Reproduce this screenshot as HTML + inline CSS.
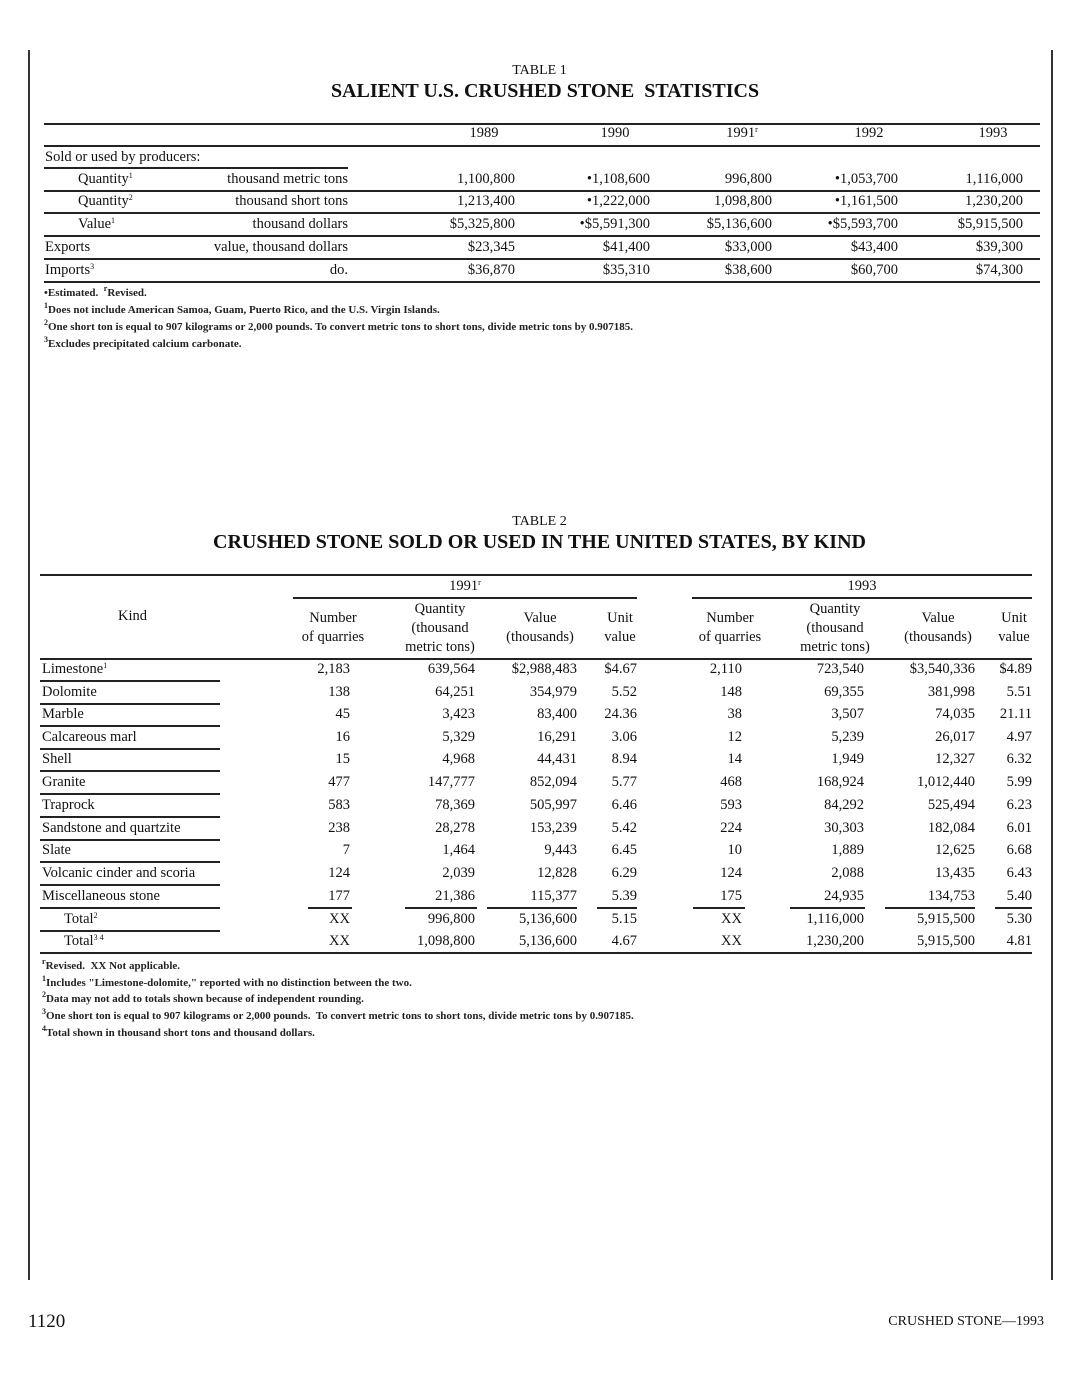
<!DOCTYPE html>
<html><head><meta charset="utf-8">
<style>
body{margin:0;background:#fff;}
#p{position:relative;width:1079px;height:1380px;overflow:hidden;background:#fff;font-family:"Liberation Serif",serif;color:#111;}
.a{position:absolute;white-space:nowrap;font-size:14.5px;line-height:18px;}
.r{text-align:right;}
.c{text-align:center;}
.h{position:absolute;height:1.5px;background:#222;}
.v{position:absolute;width:1.5px;background:#333;}
.fn{position:absolute;white-space:nowrap;font-size:11px;line-height:14px;font-weight:bold;color:#222;}
sup{font-size:8px;vertical-align:5px;line-height:0;}
</style></head><body><div id="p">
<div class="v" style="left:28px;top:50px;height:1230px"></div>
<div class="v" style="left:1051px;top:50px;height:1230px"></div>

<div class="a c" style="left:0;width:1079px;top:62px;font-size:14px">TABLE 1</div>
<div class="a c" style="left:0;width:1090px;top:79px;font-size:20px;line-height:24px;font-weight:bold">SALIENT U.S. CRUSHED STONE&nbsp; STATISTICS</div>

<div class="h" style="left:44px;width:996px;top:123px"></div>
<div class="h" style="left:44px;width:996px;top:145px"></div>
<div class="a c" style="left:434px;width:100px;top:124px">1989</div>
<div class="a c" style="left:565px;width:100px;top:124px">1990</div>
<div class="a c" style="left:692px;width:100px;top:124px">1991<sup>r</sup></div>
<div class="a c" style="left:819px;width:100px;top:124px">1992</div>
<div class="a c" style="left:943px;width:100px;top:124px">1993</div>

<div class="a" style="left:45px;top:148px">Sold or used by producers:</div>
<div class="h" style="left:44px;width:304px;top:167px"></div>

<div class="a" style="left:78px;top:170px">Quantity<sup>1</sup></div>
<div class="a r" style="left:148px;width:200px;top:170px">thousand metric tons</div>
<div class="a r" style="left:395px;width:120px;top:170px">1,100,800</div>
<div class="a r" style="left:530px;width:120px;top:170px">•1,108,600</div>
<div class="a r" style="left:652px;width:120px;top:170px">996,800</div>
<div class="a r" style="left:778px;width:120px;top:170px">•1,053,700</div>
<div class="a r" style="left:903px;width:120px;top:170px">1,116,000</div>
<div class="h" style="left:44px;width:996px;top:190px"></div>

<div class="a" style="left:78px;top:192px">Quantity<sup>2</sup></div>
<div class="a r" style="left:148px;width:200px;top:192px">thousand short tons</div>
<div class="a r" style="left:395px;width:120px;top:192px">1,213,400</div>
<div class="a r" style="left:530px;width:120px;top:192px">•1,222,000</div>
<div class="a r" style="left:652px;width:120px;top:192px">1,098,800</div>
<div class="a r" style="left:778px;width:120px;top:192px">•1,161,500</div>
<div class="a r" style="left:903px;width:120px;top:192px">1,230,200</div>
<div class="h" style="left:44px;width:996px;top:212px"></div>

<div class="a" style="left:78px;top:215px">Value<sup>1</sup></div>
<div class="a r" style="left:148px;width:200px;top:215px">thousand dollars</div>
<div class="a r" style="left:395px;width:120px;top:215px">$5,325,800</div>
<div class="a r" style="left:530px;width:120px;top:215px">•$5,591,300</div>
<div class="a r" style="left:652px;width:120px;top:215px">$5,136,600</div>
<div class="a r" style="left:778px;width:120px;top:215px">•$5,593,700</div>
<div class="a r" style="left:903px;width:120px;top:215px">$5,915,500</div>
<div class="h" style="left:44px;width:996px;top:235px"></div>

<div class="a" style="left:45px;top:238px">Exports</div>
<div class="a r" style="left:148px;width:200px;top:238px">value, thousand dollars</div>
<div class="a r" style="left:395px;width:120px;top:238px">$23,345</div>
<div class="a r" style="left:530px;width:120px;top:238px">$41,400</div>
<div class="a r" style="left:652px;width:120px;top:238px">$33,000</div>
<div class="a r" style="left:778px;width:120px;top:238px">$43,400</div>
<div class="a r" style="left:903px;width:120px;top:238px">$39,300</div>
<div class="h" style="left:44px;width:996px;top:258px"></div>

<div class="a" style="left:45px;top:261px">Imports<sup>3</sup></div>
<div class="a r" style="left:148px;width:200px;top:261px">do.</div>
<div class="a r" style="left:395px;width:120px;top:261px">$36,870</div>
<div class="a r" style="left:530px;width:120px;top:261px">$35,310</div>
<div class="a r" style="left:652px;width:120px;top:261px">$38,600</div>
<div class="a r" style="left:778px;width:120px;top:261px">$60,700</div>
<div class="a r" style="left:903px;width:120px;top:261px">$74,300</div>
<div class="h" style="left:44px;width:996px;top:281px"></div>

<div class="fn" style="left:44px;top:286px">•Estimated.&nbsp; <sup>r</sup>Revised.</div>
<div class="fn" style="left:44px;top:303px"><sup>1</sup>Does not include American Samoa, Guam, Puerto Rico, and the U.S. Virgin Islands.</div>
<div class="fn" style="left:44px;top:320px"><sup>2</sup>One short ton is equal to 907 kilograms or 2,000 pounds. To convert metric tons to short tons, divide metric tons by 0.907185.</div>
<div class="fn" style="left:44px;top:337px"><sup>3</sup>Excludes precipitated calcium carbonate.</div>

<div class="a c" style="left:0;width:1079px;top:513px;font-size:14px">TABLE 2</div>
<div class="a c" style="left:0;width:1079px;top:530px;font-size:20px;line-height:24px;font-weight:bold">CRUSHED STONE SOLD OR USED IN THE UNITED STATES, BY KIND</div>

<div class="h" style="left:40px;width:992px;top:574px"></div>
<div class="a c" style="left:293px;width:344px;top:577px">1991<sup>r</sup></div>
<div class="a c" style="left:692px;width:340px;top:577px">1993</div>
<div class="h" style="left:293px;width:344px;top:597px"></div>
<div class="h" style="left:692px;width:340px;top:597px"></div>

<div class="a c" style="left:40px;width:185px;top:607px">Kind</div>
<div class="a c" style="left:283px;width:100px;top:609px;line-height:19px">Number<br>of quarries</div>
<div class="a c" style="left:385px;width:110px;top:600px;line-height:19px">Quantity<br>(thousand<br>metric tons)</div>
<div class="a c" style="left:490px;width:100px;top:609px;line-height:19px">Value<br>(thousands)</div>
<div class="a c" style="left:590px;width:60px;top:609px;line-height:19px">Unit<br>value</div>
<div class="a c" style="left:680px;width:100px;top:609px;line-height:19px">Number<br>of quarries</div>
<div class="a c" style="left:780px;width:110px;top:600px;line-height:19px">Quantity<br>(thousand<br>metric tons)</div>
<div class="a c" style="left:888px;width:100px;top:609px;line-height:19px">Value<br>(thousands)</div>
<div class="a c" style="left:984px;width:60px;top:609px;line-height:19px">Unit<br>value</div>
<div class="h" style="left:40px;width:992px;top:658px"></div>

<div class="a" style="left:42px;top:660px">Limestone<sup>1</sup></div><div class="a r" style="left:290px;width:60px;top:660px">2,183</div><div class="a r" style="left:375px;width:100px;top:660px">639,564</div><div class="a r" style="left:477px;width:100px;top:660px">$2,988,483</div><div class="a r" style="left:577px;width:60px;top:660px">$4.67</div><div class="a r" style="left:682px;width:60px;top:660px">2,110</div><div class="a r" style="left:764px;width:100px;top:660px">723,540</div><div class="a r" style="left:875px;width:100px;top:660px">$3,540,336</div><div class="a r" style="left:972px;width:60px;top:660px">$4.89</div>
<div class="h" style="left:40px;width:180px;top:680px"></div>
<div class="a" style="left:42px;top:683px">Dolomite</div><div class="a r" style="left:290px;width:60px;top:683px">138</div><div class="a r" style="left:375px;width:100px;top:683px">64,251</div><div class="a r" style="left:477px;width:100px;top:683px">354,979</div><div class="a r" style="left:577px;width:60px;top:683px">5.52</div><div class="a r" style="left:682px;width:60px;top:683px">148</div><div class="a r" style="left:764px;width:100px;top:683px">69,355</div><div class="a r" style="left:875px;width:100px;top:683px">381,998</div><div class="a r" style="left:972px;width:60px;top:683px">5.51</div>
<div class="h" style="left:40px;width:180px;top:703px"></div>
<div class="a" style="left:42px;top:705px">Marble</div><div class="a r" style="left:290px;width:60px;top:705px">45</div><div class="a r" style="left:375px;width:100px;top:705px">3,423</div><div class="a r" style="left:477px;width:100px;top:705px">83,400</div><div class="a r" style="left:577px;width:60px;top:705px">24.36</div><div class="a r" style="left:682px;width:60px;top:705px">38</div><div class="a r" style="left:764px;width:100px;top:705px">3,507</div><div class="a r" style="left:875px;width:100px;top:705px">74,035</div><div class="a r" style="left:972px;width:60px;top:705px">21.11</div>
<div class="h" style="left:40px;width:180px;top:725px"></div>
<div class="a" style="left:42px;top:728px">Calcareous marl</div><div class="a r" style="left:290px;width:60px;top:728px">16</div><div class="a r" style="left:375px;width:100px;top:728px">5,329</div><div class="a r" style="left:477px;width:100px;top:728px">16,291</div><div class="a r" style="left:577px;width:60px;top:728px">3.06</div><div class="a r" style="left:682px;width:60px;top:728px">12</div><div class="a r" style="left:764px;width:100px;top:728px">5,239</div><div class="a r" style="left:875px;width:100px;top:728px">26,017</div><div class="a r" style="left:972px;width:60px;top:728px">4.97</div>
<div class="h" style="left:40px;width:180px;top:748px"></div>
<div class="a" style="left:42px;top:750px">Shell</div><div class="a r" style="left:290px;width:60px;top:750px">15</div><div class="a r" style="left:375px;width:100px;top:750px">4,968</div><div class="a r" style="left:477px;width:100px;top:750px">44,431</div><div class="a r" style="left:577px;width:60px;top:750px">8.94</div><div class="a r" style="left:682px;width:60px;top:750px">14</div><div class="a r" style="left:764px;width:100px;top:750px">1,949</div><div class="a r" style="left:875px;width:100px;top:750px">12,327</div><div class="a r" style="left:972px;width:60px;top:750px">6.32</div>
<div class="h" style="left:40px;width:180px;top:770px"></div>
<div class="a" style="left:42px;top:773px">Granite</div><div class="a r" style="left:290px;width:60px;top:773px">477</div><div class="a r" style="left:375px;width:100px;top:773px">147,777</div><div class="a r" style="left:477px;width:100px;top:773px">852,094</div><div class="a r" style="left:577px;width:60px;top:773px">5.77</div><div class="a r" style="left:682px;width:60px;top:773px">468</div><div class="a r" style="left:764px;width:100px;top:773px">168,924</div><div class="a r" style="left:875px;width:100px;top:773px">1,012,440</div><div class="a r" style="left:972px;width:60px;top:773px">5.99</div>
<div class="h" style="left:40px;width:180px;top:793px"></div>
<div class="a" style="left:42px;top:796px">Traprock</div><div class="a r" style="left:290px;width:60px;top:796px">583</div><div class="a r" style="left:375px;width:100px;top:796px">78,369</div><div class="a r" style="left:477px;width:100px;top:796px">505,997</div><div class="a r" style="left:577px;width:60px;top:796px">6.46</div><div class="a r" style="left:682px;width:60px;top:796px">593</div><div class="a r" style="left:764px;width:100px;top:796px">84,292</div><div class="a r" style="left:875px;width:100px;top:796px">525,494</div><div class="a r" style="left:972px;width:60px;top:796px">6.23</div>
<div class="h" style="left:40px;width:180px;top:816px"></div>
<div class="a" style="left:42px;top:819px">Sandstone and quartzite</div><div class="a r" style="left:290px;width:60px;top:819px">238</div><div class="a r" style="left:375px;width:100px;top:819px">28,278</div><div class="a r" style="left:477px;width:100px;top:819px">153,239</div><div class="a r" style="left:577px;width:60px;top:819px">5.42</div><div class="a r" style="left:682px;width:60px;top:819px">224</div><div class="a r" style="left:764px;width:100px;top:819px">30,303</div><div class="a r" style="left:875px;width:100px;top:819px">182,084</div><div class="a r" style="left:972px;width:60px;top:819px">6.01</div>
<div class="h" style="left:40px;width:180px;top:839px"></div>
<div class="a" style="left:42px;top:841px">Slate</div><div class="a r" style="left:290px;width:60px;top:841px">7</div><div class="a r" style="left:375px;width:100px;top:841px">1,464</div><div class="a r" style="left:477px;width:100px;top:841px">9,443</div><div class="a r" style="left:577px;width:60px;top:841px">6.45</div><div class="a r" style="left:682px;width:60px;top:841px">10</div><div class="a r" style="left:764px;width:100px;top:841px">1,889</div><div class="a r" style="left:875px;width:100px;top:841px">12,625</div><div class="a r" style="left:972px;width:60px;top:841px">6.68</div>
<div class="h" style="left:40px;width:180px;top:861px"></div>
<div class="a" style="left:42px;top:864px">Volcanic cinder and scoria</div><div class="a r" style="left:290px;width:60px;top:864px">124</div><div class="a r" style="left:375px;width:100px;top:864px">2,039</div><div class="a r" style="left:477px;width:100px;top:864px">12,828</div><div class="a r" style="left:577px;width:60px;top:864px">6.29</div><div class="a r" style="left:682px;width:60px;top:864px">124</div><div class="a r" style="left:764px;width:100px;top:864px">2,088</div><div class="a r" style="left:875px;width:100px;top:864px">13,435</div><div class="a r" style="left:972px;width:60px;top:864px">6.43</div>
<div class="h" style="left:40px;width:180px;top:884px"></div>
<div class="a" style="left:42px;top:887px">Miscellaneous stone</div><div class="a r" style="left:290px;width:60px;top:887px">177</div><div class="a r" style="left:375px;width:100px;top:887px">21,386</div><div class="a r" style="left:477px;width:100px;top:887px">115,377</div><div class="a r" style="left:577px;width:60px;top:887px">5.39</div><div class="a r" style="left:682px;width:60px;top:887px">175</div><div class="a r" style="left:764px;width:100px;top:887px">24,935</div><div class="a r" style="left:875px;width:100px;top:887px">134,753</div><div class="a r" style="left:972px;width:60px;top:887px">5.40</div>
<div class="h" style="left:40px;width:180px;top:907px"></div>
<div class="h" style="left:308px;width:44px;top:907px"></div>
<div class="h" style="left:405px;width:72px;top:907px"></div>
<div class="h" style="left:487px;width:90px;top:907px"></div>
<div class="h" style="left:597px;width:40px;top:907px"></div>
<div class="h" style="left:693px;width:52px;top:907px"></div>
<div class="h" style="left:790px;width:75px;top:907px"></div>
<div class="h" style="left:885px;width:90px;top:907px"></div>
<div class="h" style="left:995px;width:37px;top:907px"></div>
<div class="a" style="left:64px;top:910px">Total<sup>2</sup></div><div class="a r" style="left:290px;width:60px;top:910px">XX</div><div class="a r" style="left:375px;width:100px;top:910px">996,800</div><div class="a r" style="left:477px;width:100px;top:910px">5,136,600</div><div class="a r" style="left:577px;width:60px;top:910px">5.15</div><div class="a r" style="left:682px;width:60px;top:910px">XX</div><div class="a r" style="left:764px;width:100px;top:910px">1,116,000</div><div class="a r" style="left:875px;width:100px;top:910px">5,915,500</div><div class="a r" style="left:972px;width:60px;top:910px">5.30</div>
<div class="h" style="left:40px;width:180px;top:930px"></div>
<div class="a" style="left:64px;top:932px">Total<sup>3 4</sup></div><div class="a r" style="left:290px;width:60px;top:932px">XX</div><div class="a r" style="left:375px;width:100px;top:932px">1,098,800</div><div class="a r" style="left:477px;width:100px;top:932px">5,136,600</div><div class="a r" style="left:577px;width:60px;top:932px">4.67</div><div class="a r" style="left:682px;width:60px;top:932px">XX</div><div class="a r" style="left:764px;width:100px;top:932px">1,230,200</div><div class="a r" style="left:875px;width:100px;top:932px">5,915,500</div><div class="a r" style="left:972px;width:60px;top:932px">4.81</div>
<div class="h" style="left:40px;width:992px;top:952px"></div>

<div class="fn" style="left:42px;top:959px"><sup>r</sup>Revised.&nbsp; XX Not applicable.</div>
<div class="fn" style="left:42px;top:976px"><sup>1</sup>Includes "Limestone-dolomite," reported with no distinction between the two.</div>
<div class="fn" style="left:42px;top:992px"><sup>2</sup>Data may not add to totals shown because of independent rounding.</div>
<div class="fn" style="left:42px;top:1009px"><sup>3</sup>One short ton is equal to 907 kilograms or 2,000 pounds.&nbsp; To convert metric tons to short tons, divide metric tons by 0.907185.</div>
<div class="fn" style="left:42px;top:1026px"><sup>4</sup>Total shown in thousand short tons and thousand dollars.</div>

<div class="a" style="left:28px;top:1310px;font-size:19px;line-height:24px">1120</div>
<div class="a r" style="left:800px;width:244px;top:1313px;font-size:14px">CRUSHED STONE—1993</div>
</div></body></html>
